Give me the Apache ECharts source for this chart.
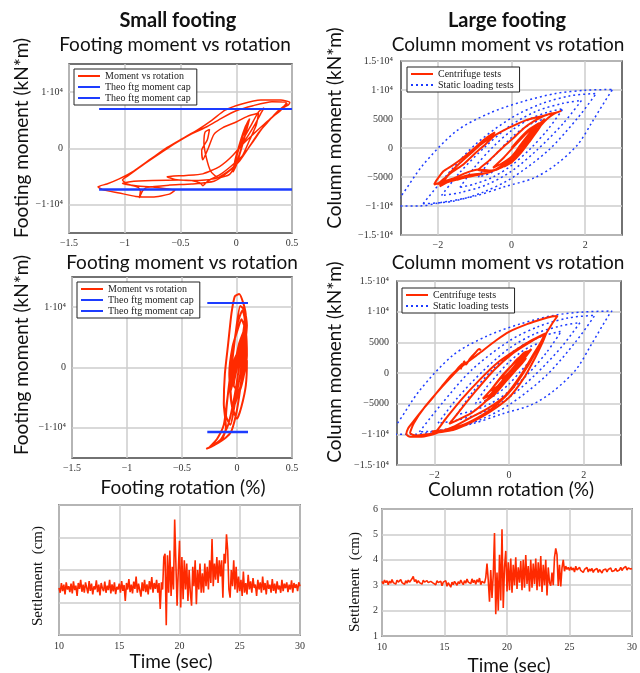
<!DOCTYPE html>
<html><head><meta charset="utf-8">
<script src="https://cdn.jsdelivr.net/npm/echarts@6/dist/echarts.min.js"></script>
<style>html,body{margin:0;padding:0;background:#fff}#c{width:640px;height:673px}</style>
</head><body><div id="c"></div>
<script>
// ---------------- DATA ----------------
// Small footing, footing moment (kN*m) vs footing rotation (%) - top panel
const smallTopLoops = [
[0.02,0],[0.06,2500],[0.10,4500],[0.12,5300],[0.09,3000],[0.04,-500],[0.0,-3000],[-0.03,-4200],[-0.01,-2000],[0.04,1500],[0.08,3800],[0.11,5000],[0.08,2500],[0.02,-1500],[-0.02,-3800],[0.01,-1000],[0.06,2200],[0.10,4000],[0.06,1000],[0.0,-2500],
[-0.06,-4600],[-0.16,-5200],[-0.23,-4000],[-0.27,-1500],[-0.29,1000],[-0.28,2900],[-0.24,3400],[-0.26,1500],[-0.31,-300],[-0.30,-2000],[-0.25,100],[-0.20,2500],[-0.12,3700],[0.0,4700],[0.1,5700],[0.2,6300],[0.18,4200],[0.12,1500],[0.05,-1500],[-0.05,-3700],[-0.18,-5300],[-0.38,-5700],[-0.55,-5500],[-0.62,-5000],[-0.45,-4800],[-0.3,-4500],[-0.15,-3200],[-0.03,-1200],[0.08,1500],[0.16,4000],[0.22,6200],[0.25,7200],[0.2,6500],[0.13,4000],[0.05,1200],[0.0,-800],[0.05,600],[0.15,2500],[0.25,4300],[0.35,6000],[0.42,7200],
[0.47,7800],[0.48,8200],[0.40,8600],[0.22,8600],[0.05,7900],[-0.10,6800],[-0.22,5000],[-0.34,3400],[-0.48,1800],[-0.62,200],[-0.77,-1900],[-0.92,-4000],[-1.05,-5400],[-1.16,-6300],[-1.24,-6800],[-1.20,-7300],[-1.05,-7900],[-0.90,-8500],[-0.75,-8600],[-0.60,-8100],[-0.55,-7400],[-0.68,-7000],[-0.90,-6600],[-1.02,-6200],[-0.95,-5900],[-0.75,-5700],[-0.52,-5600],[-0.40,-5700],[-0.32,-6200],[-0.30,-6600],[-0.25,-5700],[-0.15,-4700],[-0.05,-3200],[0.06,-1200],[0.15,1200],[0.23,3500],[0.30,5200],[0.40,6800],[0.45,8100],
[0.32,8300],[0.15,7600],[0.0,6700],[-0.13,5400],[-0.26,3900],[-0.40,2600],[-0.54,1000],[-0.67,-700],[-0.82,-2700],[-0.96,-4700],[-1.02,-5600],[-0.98,-6300],[-0.88,-6900],[-0.86,-7600],[-0.87,-8800],[-0.84,-7500],[-0.80,-6900],[-0.60,-6500],[-0.40,-6300],[-0.20,-5800],[-0.08,-4300],[0.03,-2200],[0.12,400],[0.20,2800],[0.28,4600],[0.36,6400],[0.46,8000]
];
const smallTopCapUpper = [[-1.23,7000],[0.5,7000]];
const smallTopCapLower = [[-1.23,-7300],[0.5,-7300]];

// Small footing - middle panel
const smallMidLoops = [
[0.0,0],[0.05,5000],[0.07,8000],[0.05,9500],[0.0,7000],[-0.04,2000],[-0.08,-4000],[-0.1,-8000],[-0.06,-9500],[-0.02,-6000],[0.03,-1000],[0.06,4000],[0.08,8500],[0.06,10500],[0.02,12200],[-0.02,11800],[-0.05,9000],[-0.08,4000],[-0.11,-1000],[-0.12,-6000],[-0.1,-10000],[-0.14,-12000],[-0.22,-13000],[-0.28,-13500],[-0.2,-12800],[-0.1,-11600],[-0.05,-10500],[0.0,-7000],[0.04,-2000],[0.07,3000],[0.09,7000],[0.07,9500],[0.03,10200],[-0.01,6000],[-0.05,0],[-0.09,-5500],[-0.12,-9500],[-0.18,-11800],[-0.25,-13200],[-0.15,-12000],[-0.08,-9500],[-0.02,-4500],[0.03,1500],[0.06,6000],[0.02,4000],[-0.03,-500],[-0.06,-4000],[-0.03,-2000],[0.02,2500],[0.06,5500],[0.08,2000],[0.04,-2500],[0.0,-5000],[-0.04,-7000],[-0.06,-3000],[-0.02,1500],[0.05,3500],[0.09,1000],[0.08,-3000],[0.04,-6500],[0.0,-8500],[-0.05,-6000],[-0.07,-1000],[-0.04,3500],[0.01,6500],[0.04,8000],[0.08,6000],[0.09,2000],[0.06,-1500],[0.02,-4000],[-0.03,-3000],[0.0,0]
];
const smallMidCapUpper = [[-0.27,10700],[0.1,10700]];
const smallMidCapLower = [[-0.27,-10700],[0.1,-10700]];

// Large footing - column moment vs column rotation, centrifuge (top)
const largeTopCentrifuge = [
[0.0,0],[0.25,1800],[0.5,3300],[0.75,4300],[0.6,2800],[0.3,600],[0.0,-1500],[-0.3,-2800],[-0.5,-3400],[-0.2,-1600],[0.1,500],[0.4,2500],[0.7,4000],[0.85,4600],[0.65,2600],[0.35,300],[0.05,-1800],[-0.25,-3300],
[-0.55,-3900],[-0.9,-3700],[-1.2,-4200],[-1.6,-5300],[-2.1,-6300],[-2.05,-5700],[-1.85,-4000],[-1.6,-3000],[-1.3,-1600],[-1.0,0],[-0.75,1400],[-0.55,2300],[-0.45,2700],[-0.6,1700],[-0.85,500],[-1.1,-900],[-1.4,-2600],[-1.7,-4500],[-1.9,-6300],[-1.95,-6600],[-1.7,-5800],[-1.4,-5100],[-1.1,-4600],[-0.7,-4300],[-0.3,-3400],[0.0,-1900],[0.3,0],[0.55,1900],[0.8,3900],[1.0,5200],[1.15,5900],[1.35,6400],[1.2,6100],[0.95,5700],[0.7,5300],[0.4,4800],[0.1,4000],[-0.2,3100],[-0.45,2200],[-0.7,700],[-1.0,-1000],[-1.3,-2800],[-1.6,-4100],[-1.85,-5400],[-2.0,-6200],[-1.8,-6000],[-1.5,-5500],[-1.2,-5000],[-0.9,-4600],[-0.6,-4200],[-0.3,-3200],[0.0,-1500],[0.25,400],[0.5,2300],[0.75,4100],[0.9,5000],[0.75,3400],[0.5,1200],[0.25,-900],[0.0,-2500],[-0.2,-3200],[0.05,-1200],[0.3,1000],[0.55,3000],[0.7,3600],[0.45,1700],[0.2,-300],[-0.1,-2300],[-0.35,-3600],[-0.6,-4000],[-0.9,-3800],[-0.65,-2400],[-0.4,-900],[-0.15,600],[0.1,2000],[0.35,3500],[0.6,4600],[0.9,5600],[1.1,6000]
];

// Large footing - centrifuge (middle)
const largeMidCentrifuge = [
[-0.75,3700],[-0.8,3900],[-0.9,3300],[-1.05,2300],[-1.15,1400],[-1.2,1900],[-1.25,1200],[-1.3,600],[-1.25,1500],[-1.35,900],[-1.45,200],[-1.6,-700],[-1.8,-2200],
[-2.05,-4100],[-2.3,-5900],[-2.55,-7800],[-2.7,-9000],[-2.75,-10000],[-2.65,-10400],[-2.4,-10400],[-2.1,-10100],[-1.8,-9500],[-1.5,-8800],[-1.1,-7500],[-0.6,-5900],[-0.1,-3700],[0.3,-500],[0.65,3000],[0.95,6000],[1.15,8000],[1.3,9300],[1.15,9200],[0.9,8800],[0.5,8000],[0.0,6700],[-0.35,5300],[-0.8,3200],[-1.3,900],[-1.8,-2300],[-2.25,-5500],[-2.55,-8200],[-2.65,-9800],[-2.5,-10200],[-2.2,-10000],[-1.9,-9700],
[-1.5,-9300],[-1.0,-8000],[-0.5,-6300],[0.0,-4000],[0.4,-800],[0.7,2500],[0.9,5000],[1.0,6500],[0.92,6300],[0.6,5300],[0.2,3800],[-0.3,1700],[-0.8,-1200],[-1.3,-4500],[-1.7,-7500],[-2.0,-9700],[-2.05,-9500],[-1.7,-9300],[-1.2,-8400],[-0.7,-6800],[-0.3,-5000],[0.1,-2500],[0.45,600],[0.75,3800],[0.95,6200],[0.85,6000],[0.5,4800],[0.1,3200],[-0.4,500],[-0.9,-3000],[-1.3,-6000],[-1.6,-8300],
[-1.0,-6500],[-0.6,-4500],[-0.3,-2500],[0.0,-300],[0.3,1800],[0.55,3600],[0.4,3300],[0.15,1700],[-0.15,-300],[-0.45,-2500],[-0.7,-4200],[-0.5,-3500],[-0.2,-1400],[0.1,800],[0.35,2600],[0.6,3900],[0.45,2700],[0.2,900],[-0.1,-1200],[-0.4,-3200],[-0.65,-4700],[-0.4,-3600],[-0.1,-1500],[0.2,600],[0.45,2400],[0.3,2600],[0.05,1100],[-0.25,-900],[-0.5,-2900],[-0.3,-2100],[0.0,-200],[0.25,1600],[0.5,3300],[0.3,2000],[0.0,100],[-0.2,-1000]
];

// Static loading tests (same in both large-footing panels)
const staticLoop1 = [[-0.9,-5000],[-0.6,-2300],[-0.3,-200],[0,1800],[0.3,3300],[0.6,4400],[0.9,5000],[0.6,2300],[0.3,200],[0,-1800],[-0.3,-3300],[-0.6,-4400],[-0.9,-5000]];
const staticLoop2 = [[-1.4,-6800],[-1.0,-3300],[-0.5,200],[0,3000],[0.5,5000],[1.0,6200],[1.4,6800],[1.0,3300],[0.5,-200],[0,-3000],[-0.5,-5000],[-1.0,-6200],[-1.4,-6800]];
const staticLoop3 = [[-1.9,-8200],[-1.4,-4200],[-0.7,300],[0,4000],[0.7,6400],[1.4,7700],[1.9,8200],[1.4,4200],[0.7,-300],[0,-4000],[-0.7,-6400],[-1.4,-7700],[-1.9,-8200]];
const staticLoop4 = [[-2.4,-9600],[-1.8,-5000],[-1.0,500],[0,5200],[0.8,7600],[1.6,9000],[2.3,9400],[1.8,5200],[1.0,-400],[0,-5200],[-0.8,-7700],[-1.6,-9200],[-2.4,-9600]];
const staticLoop5 = [[-3.25,-10000],[-3.0,-8300],[-2.4,-2900],[-1.5,2900],[-0.6,6000],[0.3,8000],[1.2,9400],[2.0,9950],[2.76,10100],[2.7,9700],[2.2,4600],[1.8,600],[1.2,-2900],[0.6,-5200],[-0.15,-6600],[-1.0,-8300],[-2.0,-9500],[-2.5,-10000],[-3.25,-10000]];

// Settlement (cm) time histories, 10 s to 30 s every 0.1 s
const timeStart = 10, timeStep = 0.1;
const smallSettlement = [
2.45,2.30,2.60,2.35,2.55,2.25,2.62,2.40,2.50,2.32,
2.58,2.28,2.65,2.38,2.52,2.20,2.60,2.42,2.70,2.33,
2.55,2.30,2.62,2.45,2.28,2.66,2.36,2.58,2.25,2.50,
2.40,2.68,2.32,2.55,2.22,2.60,2.44,2.35,2.64,2.30,
2.52,2.38,2.70,2.28,2.56,2.34,2.62,2.26,2.48,2.40,
2.58,2.30,2.66,2.36,2.54,2.05,2.60,2.40,2.72,2.32,
2.55,2.28,2.64,2.42,2.80,2.30,2.58,2.38,2.18,2.62,
2.35,2.70,2.32,2.56,2.25,2.66,2.40,2.78,2.30,2.60,
2.42,2.70,2.30,2.60,1.80,2.62,2.40,3.40,3.50,1.30,
3.45,2.30,3.60,2.20,3.10,2.40,4.55,3.20,1.90,3.00,
3.90,1.85,3.40,2.10,3.30,2.40,3.20,2.05,3.00,2.30,
1.90,3.10,2.50,3.30,1.95,3.00,2.40,3.20,2.30,2.90,
2.30,3.20,2.50,3.10,2.40,3.30,2.60,3.95,2.50,3.20,
2.70,3.40,2.60,3.30,2.80,3.30,2.15,3.50,3.20,4.10,
3.60,2.40,2.15,3.00,2.50,3.30,2.40,3.10,2.30,2.80,
2.35,2.70,2.20,2.95,2.30,2.60,2.25,2.85,2.40,2.65,
2.30,2.75,2.45,2.55,2.20,2.70,2.40,2.62,2.30,2.80,
2.38,2.60,2.25,2.68,2.42,2.55,2.30,2.72,2.36,2.58,
2.28,2.65,2.40,2.52,2.30,2.70,2.35,2.58,2.44,2.62,
2.32,2.55,2.40,2.68,2.30,2.60,2.45,2.56,2.35,2.62,
2.50];
const largeSettlement = [
3.15,3.05,3.20,3.10,3.18,3.02,3.16,3.08,3.22,3.10,
3.17,3.04,3.20,3.12,3.06,3.22,3.10,3.15,3.03,3.18,
3.08,3.20,3.12,3.05,3.25,3.35,3.14,3.22,3.08,3.18,
3.10,3.16,3.04,3.20,3.12,3.07,3.18,3.10,3.05,3.15,
3.20,3.08,3.14,3.02,3.18,3.10,3.06,3.16,2.98,3.12,
3.05,3.18,2.96,3.10,3.04,2.92,3.12,3.02,3.15,3.08,
3.00,3.14,3.06,3.20,3.10,3.02,3.18,3.08,3.24,3.12,
3.18,3.06,3.25,3.10,3.20,3.04,3.22,3.12,3.28,3.02,
3.15,3.22,3.08,3.30,3.85,3.20,2.35,3.60,2.50,3.40,
5.05,1.86,3.50,2.00,4.20,2.40,5.20,2.10,3.70,4.35,
2.75,3.90,2.80,4.05,2.70,3.80,3.00,4.10,2.85,3.70,
3.10,3.95,2.80,4.00,2.90,4.19,3.05,3.75,2.75,4.00,
2.90,3.85,3.05,4.05,2.80,3.90,2.95,4.15,2.73,3.80,
3.00,4.00,2.60,3.70,3.10,2.98,3.50,3.00,4.10,4.45,
4.20,2.97,3.80,2.95,3.68,4.00,3.55,3.75,3.62,3.70,
3.58,3.72,3.60,3.68,3.52,3.75,3.60,3.55,3.70,3.58,
3.65,3.50,3.62,3.58,3.70,3.52,3.64,3.56,3.66,3.50,
3.60,3.54,3.66,3.50,3.62,3.56,3.48,3.60,3.55,3.64,
3.52,3.62,3.56,3.68,3.54,3.60,3.58,3.66,3.55,3.62,
3.60,3.70,3.58,3.66,3.62,3.74,3.60,3.68,3.72,3.64,
3.66];

// Tick labels
const smallMomentTicks = [-10000, 0, 10000];
const smallMomentLabels = ['\u22121\u00b710\u2074', '0', '1\u00b710\u2074'];
const largeMomentTicks = [-15000, -10000, -5000, 0, 5000, 10000, 15000];
const largeMomentLabels = ['\u22121.5\u00b710\u2074', '\u22121\u00b710\u2074', '\u22125000', '0', '5000', '1\u00b710\u2074', '1.5\u00b710\u2074'];
const smallRotTicks = [-1.5, -1, -0.5, 0, 0.5];
const smallRotLabels = ['\u22121.5', '\u22121', '\u22120.5', '0', '0.5'];
const largeRotTicks = [-2, 0, 2];
const largeRotLabels = ['\u22122', '0', '2'];
const timeTicks = [10, 15, 20, 25, 30];
const timeLabels = ['10', '15', '20', '25', '30'];
const settleTicks = [1, 2, 3, 4, 5, 6];
const settleLabels = ['1', '2', '3', '4', '5', '6'];

// ---------------- CHART ----------------
const RED = '#ff2a00', BLUE = '#1d3cff', GRIDC = '#cccccc';
const SERIF = 'Liberation Serif', SANS = 'Lato';
function lab(ticks, labels) {
  return function (v) {
    for (let i = 0; i < ticks.length; i++) if (Math.abs(ticks[i] - v) < 1e-6) return labels[i];
    return '';
  };
}
function axis(gi, min, max, interval, fmt, colors, margin, showLabel) {
  return {
    gridIndex: gi, type: 'value', min: min, max: max, interval: interval,
    axisLine: { show: false }, axisTick: { show: false },
    splitLine: { show: true, lineStyle: { color: colors, width: 1.5 } },
    axisLabel: { show: showLabel !== false, formatter: fmt, fontFamily: SERIF, fontSize: 10, color: '#333', margin: margin, hideOverlap: false, showMinLabel: true, showMaxLabel: true }
  };
}
const alt = ['rgba(0,0,0,0)', GRIDC];
const gridBox = { show: true, borderColor: '#444', borderWidth: 1.5, backgroundColor: '#fff' };
const grids = [
  Object.assign({ left: 69, top: 64, width: 223, height: 169 }, gridBox),
  Object.assign({ left: 401, top: 61, width: 221, height: 174 }, gridBox),
  Object.assign({ left: 72, top: 277, width: 220, height: 181 }, gridBox),
  Object.assign({ left: 397, top: 281, width: 224, height: 184 }, gridBox),
  Object.assign({ left: 59, top: 505, width: 241, height: 130 }, gridBox),
  Object.assign({ left: 382, top: 509, width: 250, height: 127 }, gridBox)
];
const xAxes = [
  axis(0, -1.5, 0.5, 0.5, lab(smallRotTicks, smallRotLabels), GRIDC, 5),
  axis(1, -3, 3, 1, lab(largeRotTicks, largeRotLabels), alt, 5),
  axis(2, -1.5, 0.5, 0.5, lab(smallRotTicks, smallRotLabels), GRIDC, 5),
  axis(3, -3, 3, 1, lab(largeRotTicks, largeRotLabels), alt, 5),
  axis(4, 10, 30, 5, lab(timeTicks, timeLabels), GRIDC, 6),
  axis(5, 10, 30, 5, lab(timeTicks, timeLabels), GRIDC, 6)
];
const yAxes = [
  axis(0, -15000, 15000, 5000, lab(smallMomentTicks, smallMomentLabels), alt, 6),
  axis(1, -15000, 15000, 5000, lab(largeMomentTicks, largeMomentLabels), GRIDC, 8),
  axis(2, -15000, 15000, 5000, lab(smallMomentTicks, smallMomentLabels), alt, 6),
  axis(3, -15000, 15000, 5000, lab(largeMomentTicks, largeMomentLabels), GRIDC, 8),
  axis(4, 1, 5, 1, lab(settleTicks, settleLabels), GRIDC, 4, false),
  axis(5, 1, 6, 1, lab(settleTicks, settleLabels), GRIDC, 4)
];
function line(name, gi, data, color, width, type, smooth) {
  return { name: name, type: 'line', xAxisIndex: gi, yAxisIndex: gi, data: data, symbol: 'none', showSymbol: false, smooth: smooth || 0,
    lineStyle: { color: color, width: width, type: type || 'solid' }, itemStyle: { color: color }, silent: true, animation: false };
}
function timeSeries(vals) { return vals.map((v, i) => [timeStart + i * timeStep, v]); }
const staticLoops = [staticLoop1, staticLoop2, staticLoop3, staticLoop4, staticLoop5];
const series = [
  line('Moment vs rotation', 0, smallTopLoops, RED, 1.5, 'solid', 0.2),
  line('cap1', 0, smallTopCapUpper, BLUE, 2, 'solid'),
  line('cap2', 0, smallTopCapLower, BLUE, 2.5, 'solid'),
  line('Moment vs rotation', 2, smallMidLoops, RED, 2, 'solid', 0.2),
  line('cap1', 2, smallMidCapUpper, BLUE, 2, 'solid'),
  line('cap2', 2, smallMidCapLower, BLUE, 2.5, 'solid')
];
[1, 3].forEach(gi => staticLoops.forEach(L => series.push(line('Static loading tests', gi, L, BLUE, 1.5, [2, 3], 0.3))));
series.push(line('Centrifuge tests', 1, largeTopCentrifuge, RED, 2, 'solid', 0.2));
series.push(line('Centrifuge tests', 3, largeMidCentrifuge, RED, 2, 'solid', 0.2));
series.push(line('Settlement small', 4, timeSeries(smallSettlement), RED, 1.6, 'solid'));
series.push(line('Settlement large', 5, timeSeries(largeSettlement), RED, 1.6, 'solid'));

const legendNames = { 'cap1': 'Theo ftg moment cap', 'cap2': 'Theo ftg moment cap' };
function legend(left, top, data) {
  return { left: left, top: top, orient: 'vertical', data: data, selectedMode: false,
    itemWidth: 22, itemHeight: 8, itemGap: 1, padding: [2, 6, 2, 3],
    borderColor: '#222', borderWidth: 1, backgroundColor: '#fff',
    itemStyle: { opacity: 0 },
    formatter: n => legendNames[n] || n,
    textStyle: { fontFamily: SERIF, fontSize: 10, color: '#222' } };
}
function txt(x, y, text, size, opts) {
  return Object.assign({ type: 'text', x: x, y: y, silent: true,
    style: Object.assign({ text: text, fontSize: size, fontFamily: SANS, fill: '#111', align: 'center', verticalAlign: 'middle' }, (opts && opts.style) || {}) },
    opts && opts.rotation ? { rotation: opts.rotation } : {});
}
const R = Math.PI / 2;
const graphic = [
  txt(178, 21, 'Small footing', 20, { style: { fontWeight: 'bold' } }),
  txt(507, 21, 'Large footing', 20, { style: { fontWeight: 'bold' } }),
  txt(175, 45, 'Footing moment vs rotation', 19),
  txt(508, 45, 'Column moment vs rotation', 19),
  txt(182, 263, 'Footing moment vs rotation', 19),
  txt(508, 263, 'Column moment vs rotation', 19),
  txt(183, 488, 'Footing rotation (%)', 19),
  txt(511, 490, 'Column rotation (%)', 19),
  txt(171, 662, 'Time (sec)', 19),
  txt(509, 666, 'Time (sec)', 19),
  txt(22, 138, 'Footing moment (kN*m)', 19, { rotation: R }),
  txt(22, 355, 'Footing moment (kN*m)', 19, { rotation: R }),
  txt(335, 128, 'Column moment (kN*m)', 19, { rotation: R }),
  txt(335, 362, 'Column moment (kN*m)', 19, { rotation: R }),
  txt(38, 576, 'Settlement  (cm)', 15, { rotation: R, style: { fontFamily: SERIF } }),
  txt(355, 582, 'Settlement  (cm)', 15, { rotation: R, style: { fontFamily: SERIF } })
];
const chart = echarts.init(document.getElementById('c'), null, { renderer: 'canvas', width: 640, height: 673 });
chart.setOption({
  animation: false, backgroundColor: '#fff',
  grid: grids, xAxis: xAxes, yAxis: yAxes, series: series, graphic: graphic,
  legend: [
    legend(74, 69, ['Moment vs rotation', 'cap1', 'cap2']),
    legend(407, 67, ['Centrifuge tests', 'Static loading tests']),
    legend(77, 282, ['Moment vs rotation', 'cap1', 'cap2']),
    legend(402, 288, ['Centrifuge tests', 'Static loading tests'])
  ]
});
</script></body></html>
